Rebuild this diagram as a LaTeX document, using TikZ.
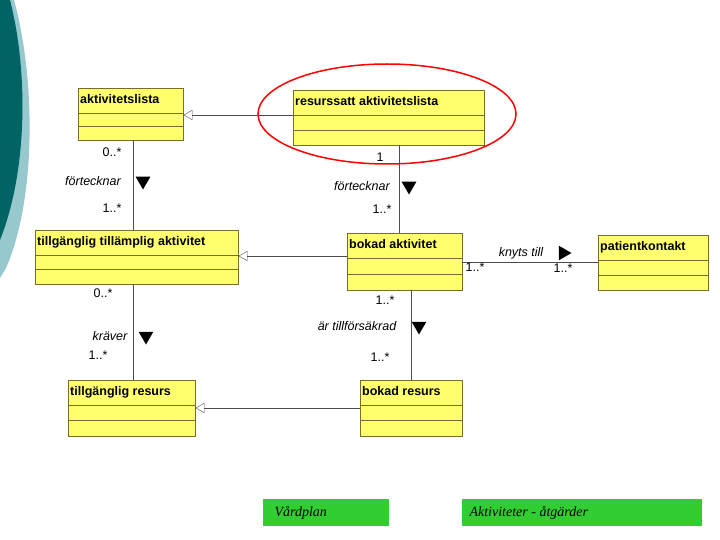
\documentclass[tikz,border=0pt]{standalone}
\usepackage{fontspec}
\setmainfont{Liberation Sans}
\newfontfamily\fotfont{Liberation Serif}
\usepackage{tikz}
\usetikzlibrary{shapes,arrows,arrows.meta,positioning}
\definecolor{umlyellow}{RGB}{255,255,110}
\definecolor{umledge}{RGB}{120,110,40}
\definecolor{teal1}{RGB}{0,100,100}
\definecolor{teal2}{RGB}{150,200,205}
\definecolor{greenbox}{RGB}{50,205,50}
\tikzset{
  cls/.style={draw=umledge, fill=umlyellow, anchor=north west, inner sep=0pt},
  gen/.style={-{Triangle[open, length=9pt, width=10pt]}, draw=black!70},
  assoc/.style={draw=black!70},
  lbl/.style={font=\fontsize{12.5}{12.5}\selectfont, inner sep=1pt},
  role/.style={font=\itshape\fontsize{12.5}{12.5}\selectfont, inner sep=1pt},
  dir/.style={regular polygon, regular polygon sides=3, fill=black, inner sep=0pt, minimum size=17pt},
  foot/.style={fill=greenbox, anchor=north west, inner sep=0pt}
}
% klassruta med rubrik och tva fack
\newcommand{\umlklass}[6]{%
  \node[cls, minimum width=#4pt, minimum height=#5pt] (#1) at (#2,#3) {};
  \node[anchor=north west, font=\bfseries\fontsize{12.5}{12.5}\selectfont, inner sep=2pt] at ([xshift=0pt,yshift=-4pt]#1.north west) {#6};
  \draw[umledge] ([yshift=-25pt]#1.north west) -- ([yshift=-25pt]#1.north east);
  \draw[umledge] ([yshift=-25pt-(#5pt-25pt)/2]#1.north west) -- ([yshift=-25pt-(#5pt-25pt)/2]#1.north east);
}
\begin{document}
\begin{tikzpicture}[x=1pt,y=-1pt]
  \useasboundingbox (0,0) rectangle (720,540);

  % dekoration till vanster
  \fill[teal2] (0,0) -- (14,0) .. controls (36,80) and (36,200) .. (6,268) -- (0,278) -- cycle;
  \fill[teal1] (0,0) -- (10,0) .. controls (28,70) and (28,170) .. (0,240) -- cycle;

  % klasser
  \umlklass{lista}{78}{88}{105}{52}{aktivitetslista}
  \umlklass{resurs}{293}{90}{191}{55}{resurssatt aktivitetslista}
  \umlklass{tillakt}{35}{230}{203}{54}{tillgänglig tillämplig aktivitet}
  \umlklass{bokakt}{347}{233}{115}{57}{bokad aktivitet}
  \umlklass{patient}{598}{235}{110}{55}{patientkontakt}
  \umlklass{tillres}{68}{380}{127}{56}{tillgänglig resurs}
  \umlklass{bokres}{360}{380}{102}{56}{bokad resurs}

  % markering
  \draw[red, line width=1.5pt] (387,114) ellipse [x radius=129, y radius=50];

  % generaliseringar
  \draw[gen] (resurs.west |- 0,115) -- (lista.east |- 0,115);
  \draw[gen] (bokakt.west |- 0,256) -- (tillakt.east |- 0,256);
  \draw[gen] (bokres.west |- 0,408) -- (tillres.east |- 0,408);

  % associationer
  \draw[assoc] (lista.south -| 133,0) -- (tillakt.north -| 133,0);
  \node[lbl] at (112,152) {0..*};
  \node[role] at (93,181) {förtecknar};
  \node[dir, shape border rotate=180] at (143,181) {};
  \node[lbl] at (112,208) {1..*};

  \draw[assoc] (resurs.south -| 399,0) -- (bokakt.north -| 399,0);
  \node[lbl] at (380,157) {1};
  \node[role] at (362,186) {förtecknar};
  \node[dir, shape border rotate=180] at (409,186) {};
  \node[lbl] at (382,209) {1..*};

  \draw[assoc] (tillakt.south -| 133,0) -- (tillres.north -| 133,0);
  \node[lbl] at (103,293) {0..*};
  \node[role] at (110,336) {kräver};
  \node[dir, shape border rotate=180] at (146,336) {};
  \node[lbl] at (98,355) {1..*};

  \draw[assoc] (bokakt.south -| 411,0) -- (bokres.north -| 411,0);
  \node[lbl] at (385,300) {1..*};
  \node[role] at (357,326) {är tillförsäkrad};
  \node[dir, shape border rotate=180] at (419,326) {};
  \node[lbl] at (380,357) {1..*};

  \draw[assoc] (bokakt.east |- 0,262) -- (patient.west |- 0,262);
  \node[role] at (521,253) {knyts till};
  \node[dir, shape border rotate=-90] at (563,253) {};
  \node[lbl] at (475,267) {1..*};
  \node[lbl] at (563,268) {1..*};

  % fotnoter
  \node[foot, minimum width=126pt, minimum height=27pt] (vard) at (263,499) {};
  \node[anchor=west, font=\fotfont\itshape\fontsize{14}{14}\selectfont] at ([xshift=8pt]vard.west) {Vårdplan};
  \node[foot, minimum width=240pt, minimum height=27pt] (aktiv) at (462,499) {};
  \node[anchor=west, font=\fotfont\itshape\fontsize{14}{14}\selectfont] at ([xshift=4pt]aktiv.west) {Aktiviteter - åtgärder};
\end{tikzpicture}
\end{document}
